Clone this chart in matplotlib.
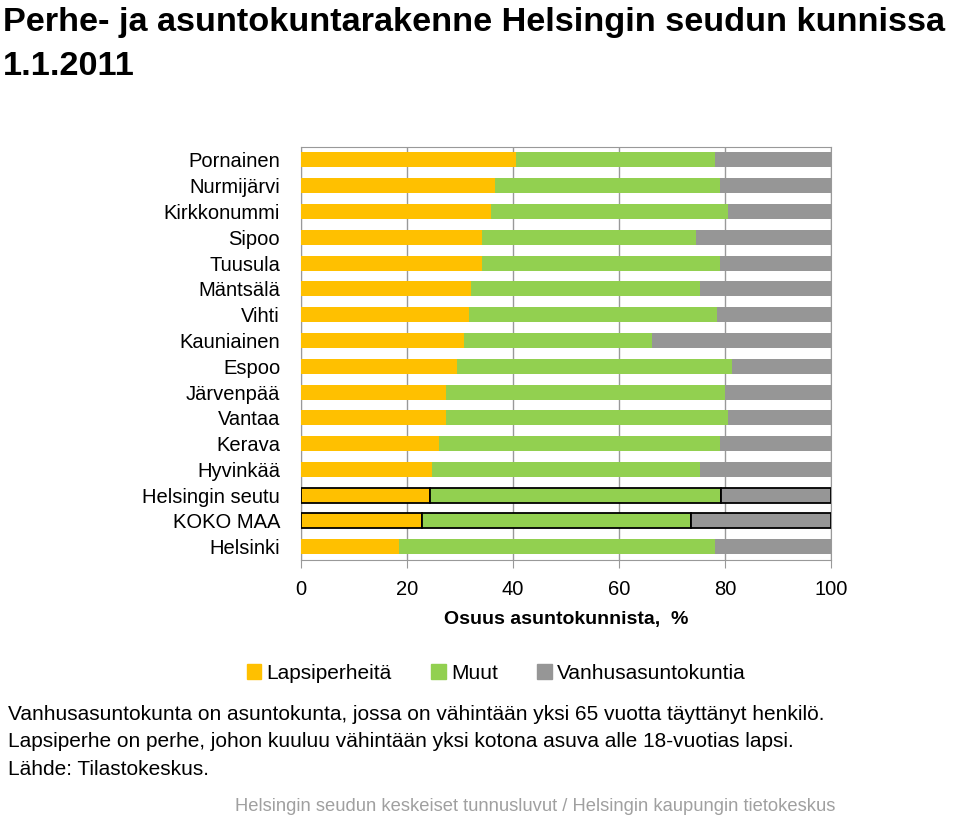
import matplotlib
matplotlib.use("Agg")
import matplotlib.pyplot as plt
import numpy as np

plt.rcParams['font.family'] = ['Liberation Sans', 'DejaVu Sans']

kunnat = ['Pornainen', 'Nurmijärvi', 'Kirkkonummi', 'Sipoo', 'Tuusula', 'Mäntsälä',
          'Vihti', 'Kauniainen', 'Espoo', 'Järvenpää', 'Vantaa', 'Kerava', 'Hyvinkää',
          'Helsingin seutu', 'KOKO MAA', 'Helsinki']
lapsiperheita = [40.6, 36.5, 35.8, 34.2, 34.2, 32.0, 31.7, 30.8, 29.5, 27.3, 27.3,
                 26.1, 24.8, 24.3, 22.9, 18.4]
muut = [37.5, 42.5, 44.7, 40.3, 44.8, 43.3, 46.7, 35.4, 51.8, 52.7, 53.2, 52.9,
        50.4, 54.8, 50.6, 59.7]
vanhus = [100 - a - b for a, b in zip(lapsiperheita, muut)]
korostetut = ['Helsingin seutu', 'KOKO MAA']

c_orange = '#FFC000'
c_green = '#92D050'
c_gray = '#969696'

fig = plt.figure(figsize=(9.6, 8.17), dpi=100)
ax = fig.add_axes([0.3135, 0.315, 0.5525, 0.505])

y = np.arange(len(kunnat))
h = 0.58
for i, k in enumerate(kunnat):
    ec = 'black' if k in korostetut else 'none'
    lw = 1.3 if k in korostetut else 0
    ax.barh(y[i], lapsiperheita[i], height=h, color=c_orange, edgecolor=ec, linewidth=lw, zorder=3)
    ax.barh(y[i], muut[i], left=lapsiperheita[i], height=h, color=c_green, edgecolor=ec, linewidth=lw, zorder=3)
    ax.barh(y[i], vanhus[i], left=lapsiperheita[i] + muut[i], height=h, color=c_gray, edgecolor=ec, linewidth=lw, zorder=3)

ax.set_xlim(0, 100)
ax.set_ylim(len(kunnat) - 0.5, -0.5)
ax.set_yticks(y)
ax.set_yticklabels(kunnat, fontsize=14.5)
ax.set_xticks([0, 20, 40, 60, 80, 100])
ax.tick_params(axis='y', length=0, pad=15)
ax.tick_params(axis='x', length=6, color='#999999', labelsize=14.5, pad=9)
ax.grid(axis='x', color='#999999', linewidth=1, zorder=0)
for s in ax.spines.values():
    s.set_color('#999999')
ax.set_xlabel('Osuus asuntokunnista,  %', fontsize=14, fontweight='bold', labelpad=8)

fig.text(0.003, 0.991, 'Perhe- ja asuntokuntarakenne Helsingin seudun kunnissa',
         fontsize=24.7, fontweight='bold', va='top', ha='left')
fig.text(0.003, 0.938, '1.1.2011',
         fontsize=24.7, fontweight='bold', va='top', ha='left')

handles = [plt.Rectangle((0, 0), 1, 1, color=c) for c in (c_orange, c_green, c_gray)]
fig.legend(handles, ['Lapsiperheitä', 'Muut', 'Vanhusasuntokuntia'], loc='center',
           bbox_to_anchor=(0.517, 0.176), ncol=3, frameon=False, fontsize=15,
           handlelength=0.7, handleheight=0.7, handletextpad=0.25, columnspacing=1.9)

notes = ['Vanhusasuntokunta on asuntokunta, jossa on vähintään yksi 65 vuotta täyttänyt henkilö.',
         'Lapsiperhe on perhe, johon kuuluu vähintään yksi kotona asuva alle 18-vuotias lapsi.',
         'Lähde: Tilastokeskus.']
for j, t in enumerate(notes):
    fig.text(0.008, 0.126 - j * 0.0337, t, fontsize=15, va='center', ha='left')

fig.text(0.557, 0.013, 'Helsingin seudun keskeiset tunnusluvut / Helsingin kaupungin tietokeskus',
         fontsize=13.2, color='#a0a0a0', ha='center', va='center')

fig.savefig('out.png', dpi=100)
